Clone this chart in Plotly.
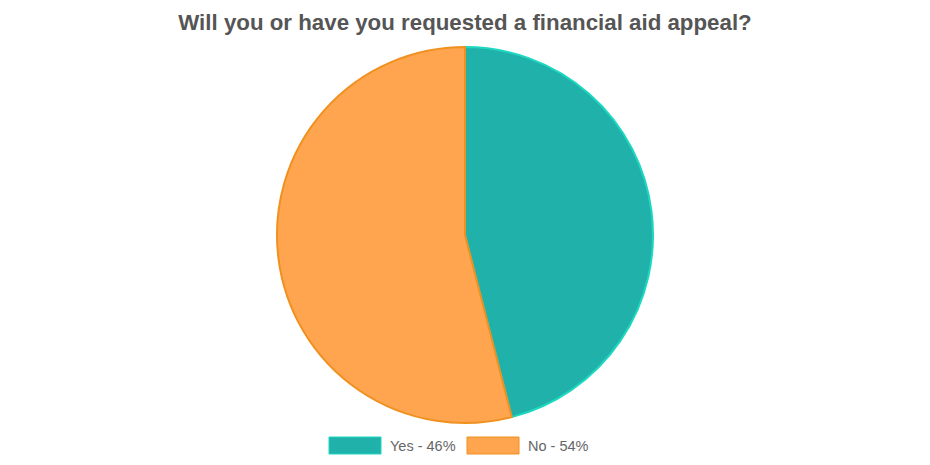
import plotly.graph_objects as go

labels = ["Yes - 46%", "No - 54%"]
values = [46, 54]
fill_colors = ["#20B2AA", "#FFA54F"]
line_colors = ["#1DD8C0", "#F0901F"]

W, H = 930, 465
T, B = 39, 50
PH = H - T - B


def py(ypx):
    # figure pixel row -> paper y (plot area)
    return (H - B - ypx) / PH


fig = go.Figure(go.Pie(
    labels=labels,
    values=values,
    sort=False,
    direction="clockwise",
    rotation=0,
    textinfo="none",
    hoverinfo="label",
    showlegend=False,
    marker=dict(colors=fill_colors, line=dict(color=line_colors, width=2)),
    domain=dict(x=[0, 914 / W], y=[0, 1]),
))

# legend swatches (rectangles) + labels, built from the arrays above
box_x = [321, 459]
for i, lab in enumerate(labels):
    x0 = box_x[i]
    fig.add_shape(type="rect", xref="paper", yref="paper",
                  x0=x0 / W, x1=(x0 + 52) / W,
                  y0=py(446), y1=py(429),
                  fillcolor=fill_colors[i], line=dict(color=line_colors[i], width=1))
    fig.add_annotation(xref="paper", yref="paper",
                       x=(x0 + 59) / W, y=py(437.5),
                       xanchor="left", yanchor="middle", showarrow=False,
                       text=lab,
                       font=dict(family="Arial, Liberation Sans", size=14.5, color="#666666"))

fig.update_layout(
    width=W, height=H,
    margin=dict(l=0, r=0, t=T, b=B),
    paper_bgcolor="white",
    plot_bgcolor="white",
    title=dict(
        text="<b>Will you or have you requested a financial aid appeal?</b>",
        x=457 / W, xanchor="center", y=1 - 14 / H, yanchor="middle",
        font=dict(family="Arial, Liberation Sans", size=22.3, color="#555555"),
    ),
)

fig.write_html("out.html")
